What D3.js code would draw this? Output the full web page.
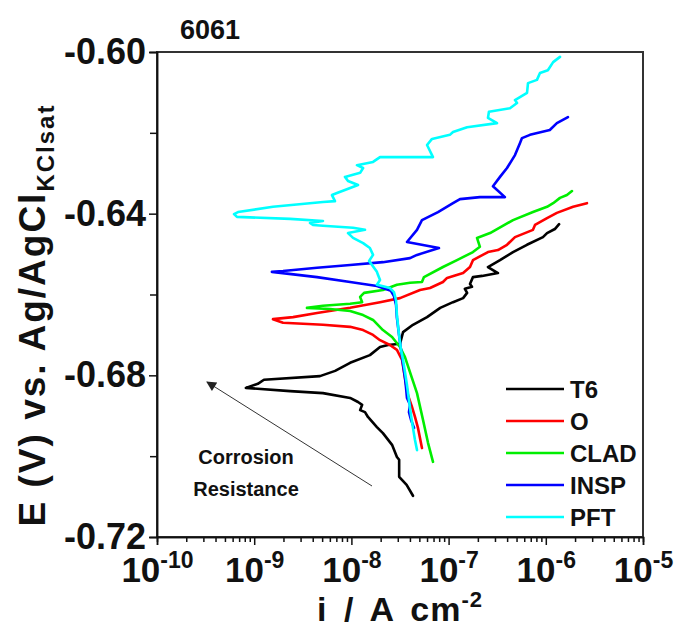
<!DOCTYPE html>
<html>
<head>
<meta charset="utf-8">
<script src="https://cdn.jsdelivr.net/npm/d3@7/dist/d3.min.js"></script>
<style>
  body { margin: 0; background: #fff; }
  text { font-family: "Liberation Sans", Arial, sans-serif; font-weight: bold; fill: #111; }
</style>
</head>
<body>
<svg id="chart" width="675" height="629"></svg>
<script>
// Potentiodynamic polarization curves, alloy 6061, five tempers/conditions
const seriesNames = ["T6", "O", "CLAD", "INSP", "PFT"];
const seriesColors = ["#000000", "#ff0000", "#00ee00", "#0000ff", "#00ffff"];

// current density (A cm^-2) and potential (V vs Ag/AgCl), cathodic end first
const t6Current = [4.3e-8, 3.7e-8, 3.1e-8, 3.1e-8, 2.94e-8, 2.62e-8, 2.11e-8, 1.83e-8, 1.48e-8, 1.38e-8,
  1.23e-8, 1.29e-8, 1.17e-8, 9.7e-9, 5.1e-9, 2.34e-9, 8.2e-10, 1.09e-9, 1.26e-9, 4.75e-9,
  6.8e-9, 9.7e-9, 1.55e-8, 1.97e-8, 2.38e-8, 3.16e-8, 3.4e-8, 4.3e-8, 6.0e-8, 8.2e-8,
  1.11e-7, 1.41e-7, 1.55e-7, 1.47e-7, 1.74e-7, 1.66e-7, 1.78e-7, 2.21e-7, 3.22e-7, 2.54e-7,
  3.38e-7, 4.6e-7, 6.4e-7, 9.35e-7, 1.03e-6, 1.24e-6, 1.37e-6];
const t6Potential = [-0.7098, -0.7071, -0.7051, -0.7009, -0.7002, -0.6972, -0.6943, -0.6928, -0.6903, -0.6891,
  -0.6886, -0.6873, -0.6866, -0.6856, -0.6844, -0.6839, -0.6831, -0.6821, -0.6811, -0.6802,
  -0.6789, -0.6769, -0.6750, -0.6730, -0.6725, -0.6722, -0.6693, -0.6675, -0.6656, -0.6633,
  -0.6619, -0.6609, -0.6596, -0.6586, -0.6581, -0.6574, -0.6557, -0.6554, -0.6547, -0.6532,
  -0.6515, -0.6495, -0.6477, -0.6458, -0.6448, -0.6438, -0.6426];

const oCurrent = [5.32e-8, 4.84e-8, 4.51e-8, 4.2e-8, 3.82e-8, 3.56e-8, 3.32e-8, 2.94e-8, 2.49e-8, 1.97e-8,
  1.67e-8, 1.32e-8, 9.7e-9, 5.1e-9, 1.98e-9, 1.56e-9, 2.51e-9, 4.43e-9, 9.7e-9, 1.97e-8,
  3.16e-8, 5.08e-8, 6.44e-8, 8.75e-8, 9.64e-8, 1.41e-7, 1.66e-7, 1.78e-7, 2.54e-7, 3.22e-7,
  3.99e-7, 4.82e-7, 7.38e-7, 7.74e-7, 1.03e-6, 1.3e-6, 1.91e-6, 2.65e-6];
const oPotential = [-0.6980, -0.6930, -0.6903, -0.6878, -0.6849, -0.6807, -0.6762, -0.6737, -0.6725, -0.6713,
  -0.6700, -0.6688, -0.6680, -0.6675, -0.6670, -0.6661, -0.6656, -0.6646, -0.6633, -0.6619,
  -0.6609, -0.6589, -0.6584, -0.6569, -0.6559, -0.6547, -0.6532, -0.6515, -0.6495, -0.6490,
  -0.6477, -0.6458, -0.6440, -0.6428, -0.6411, -0.6398, -0.6383, -0.6374];

const cladCurrent = [6.91e-8, 6.14e-8, 5.45e-8, 4.73e-8, 4.2e-8, 3.56e-8, 3.16e-8, 2.62e-8, 2.11e-8, 1.67e-8,
  1.32e-8, 9.7e-9, 6.03e-9, 3.49e-9, 5.1e-9, 9.7e-9, 1.29e-8, 1.23e-8, 1.35e-8, 2.11e-8,
  2.94e-8, 4.01e-8, 5.32e-8, 5.58e-8, 8.75e-8, 1.22e-7, 1.78e-7, 2.1e-7, 1.96e-7, 2.67e-7,
  4.6e-7, 7.38e-7, 1.03e-6, 1.19e-6, 1.4e-6, 1.65e-6, 1.86e-6];
const cladPotential = [-0.7014, -0.6967, -0.6910, -0.6844, -0.6807, -0.6755, -0.6730, -0.6705, -0.6688, -0.6663,
  -0.6651, -0.6641, -0.6636, -0.6633, -0.6628, -0.6623, -0.6619, -0.6606, -0.6596, -0.6589,
  -0.6576, -0.6571, -0.6569, -0.6557, -0.6532, -0.6515, -0.6495, -0.6482, -0.6460, -0.6448,
  -0.6416, -0.6396, -0.6383, -0.6374, -0.6361, -0.6354, -0.6344];

const inspCurrent = [4.41e-8, 4.1e-8, 3.91e-8, 4.01e-8, 3.73e-8, 3.65e-8, 3.56e-8, 3.4e-8, 3.24e-8, 3.09e-8,
  2.94e-8, 2.88e-8, 2.74e-8, 2.55e-8, 1.83e-8, 9.7e-9, 4.43e-9, 1.52e-9, 1.98e-9, 4.43e-9,
  9.7e-9, 2.11e-8, 4.01e-8, 4.73e-8, 7.96e-8, 3.73e-8, 4.73e-8, 5.32e-8, 7.78e-8, 1.11e-7,
  1.31e-7, 2.1e-7, 3.8e-7, 2.86e-7, 3.38e-7, 3.99e-7, 4.82e-7, 5.43e-7, 5.69e-7, 6.87e-7,
  1.1e-6, 1.3e-6, 1.69e-6];
const inspPotential = [-0.6930, -0.6910, -0.6891, -0.6873, -0.6856, -0.6831, -0.6807, -0.6774, -0.6737, -0.6700,
  -0.6658, -0.6626, -0.6604, -0.6591, -0.6579, -0.6569, -0.6557, -0.6544, -0.6542, -0.6534,
  -0.6527, -0.6520, -0.6510, -0.6502, -0.6485, -0.6470, -0.6440, -0.6416, -0.6396, -0.6374,
  -0.6364, -0.6359, -0.6359, -0.6332, -0.6309, -0.6287, -0.6255, -0.6225, -0.6213, -0.6205,
  -0.6193, -0.6176, -0.6161];

const pftCurrent = [4.73e-8, 4.51e-8, 4.3e-8, 4.1e-8, 3.91e-8, 3.73e-8, 3.56e-8, 3.4e-8, 3.24e-8, 3.09e-8,
  2.94e-8, 2.88e-8, 2.74e-8, 2.49e-8, 2.22e-8, 1.83e-8, 1.97e-8, 1.88e-8, 1.83e-8, 1.63e-8,
  1.52e-8, 1.67e-8, 1.55e-8, 1.32e-8, 1.04e-8, 9.23e-9, 1.38e-8, 1.04e-8, 5.1e-9, 4.03e-9,
  3.75e-9, 5.1e-9, 2.34e-9, 6.65e-10, 6.2e-10, 6.81e-10, 1.56e-9, 5.1e-9, 6.78e-9, 6.31e-9,
  7.11e-9, 1.17e-8, 9.23e-9, 8.59e-9, 1.23e-8, 1.32e-8, 1.14e-8, 1.67e-8, 1.97e-8, 4.01e-8,
  6.91e-8, 6.0e-8, 6.75e-8, 1.03e-7, 1.11e-7, 1.55e-7, 3.15e-7, 2.54e-7, 2.6e-7, 4.28e-7,
  5.06e-7, 4.82e-7, 6.41e-7, 6.56e-7, 8.11e-7, 8.71e-7, 1.05e-6, 1.19e-6, 1.4e-6];
const pftPotential = [-0.6985, -0.6960, -0.6930, -0.6898, -0.6861, -0.6824, -0.6792, -0.6762, -0.6737, -0.6700,
  -0.6651, -0.6614, -0.6594, -0.6584, -0.6581, -0.6576, -0.6564, -0.6552, -0.6544, -0.6527,
  -0.6517, -0.6502, -0.6485, -0.6473, -0.6460, -0.6448, -0.6440, -0.6435, -0.6430, -0.6428,
  -0.6423, -0.6418, -0.6413, -0.6408, -0.6401, -0.6396, -0.6383, -0.6371, -0.6369, -0.6354,
  -0.6349, -0.6329, -0.6319, -0.6309, -0.6299, -0.6287, -0.6280, -0.6272, -0.6260, -0.6260,
  -0.6260, -0.6230, -0.6215, -0.6205, -0.6198, -0.6186, -0.6176, -0.6163, -0.6148, -0.6139,
  -0.6126, -0.6119, -0.6101, -0.6077, -0.6069, -0.6052, -0.6045, -0.6025, -0.6012];

// axis ticks
const yMajorTicks = [-0.72, -0.68, -0.64, -0.60];
const yMinorTicks = [-0.70, -0.66, -0.62];
const xDecadeTicks = [1e-10, 1e-9, 1e-8, 1e-7, 1e-6, 1e-5];
const xDecadeExponents = ["-10", "-9", "-8", "-7", "-6", "-5"];

const chartTitle = "6061";
const annotationLines = ["Corrosion", "Resistance"];

const seriesCurrents = [t6Current, oCurrent, cladCurrent, inspCurrent, pftCurrent];
const seriesPotentials = [t6Potential, oPotential, cladPotential, inspPotential, pftPotential];

const svg = d3.select("#chart");
const plot = { left: 157, top: 52, right: 643, bottom: 537 };

const x = d3.scaleLog().domain([1e-10, 1e-5]).range([plot.left, plot.right]);
const y = d3.scaleLinear().domain([-0.72, -0.60]).range([plot.bottom, plot.top]);

// minor ticks: 2..9 within each decade
const xMinorTicks = [];
xDecadeTicks.slice(0, -1).forEach(d => { for (let k = 2; k <= 9; k++) xMinorTicks.push(d * k); });

// frame
svg.append("rect")
  .attr("x", plot.left).attr("y", plot.top)
  .attr("width", plot.right - plot.left).attr("height", plot.bottom - plot.top)
  .attr("fill", "none").attr("stroke", "#333").attr("stroke-width", 2);

// y axis
const yAxisMinor = svg.append("g").attr("transform", `translate(${plot.left},0)`)
  .call(d3.axisLeft(y).tickValues(yMinorTicks).tickSize(7).tickFormat(""));
const yAxis = svg.append("g").attr("transform", `translate(${plot.left},0)`)
  .call(d3.axisLeft(y).tickValues(yMajorTicks).tickSize(8).tickPadding(3).tickFormat(d => d.toFixed(2)));
[yAxisMinor, yAxis].forEach(g => {
  g.select(".domain").attr("stroke", "#111").attr("stroke-width", 1.5);
  g.selectAll(".tick line").attr("stroke", "#111").attr("stroke-width", 1.5);
});
yAxis.selectAll(".tick text").attr("font-size", 36).attr("fill", "#111")
  .attr("font-family", "'Liberation Sans', Arial, sans-serif").attr("font-weight", "bold");

// x axis
const xAxisMinor = svg.append("g").attr("transform", `translate(0,${plot.bottom})`)
  .call(d3.axisBottom(x).tickValues(xMinorTicks).tickSize(5).tickFormat(""));
const xAxis = svg.append("g").attr("transform", `translate(0,${plot.bottom})`)
  .call(d3.axisBottom(x).tickValues(xDecadeTicks).tickSize(8).tickFormat(""));
[xAxisMinor, xAxis].forEach(g => {
  g.select(".domain").attr("stroke", "#111").attr("stroke-width", 1.5);
  g.selectAll(".tick line").attr("stroke", "#111").attr("stroke-width", 1.5);
});
xAxis.selectAll(".tick").each(function (d, i) {
  const t = d3.select(this).append("text")
    .attr("y", 45).attr("text-anchor", "middle")
    .attr("font-size", 35).attr("fill", "#111")
    .attr("font-family", "'Liberation Sans', Arial, sans-serif").attr("font-weight", "bold");
  t.append("tspan").text("10");
  t.append("tspan").attr("dy", -14).attr("font-size", 23).text(xDecadeExponents[i]);
});

// curves
const line = d3.line().x(d => x(d[0])).y(d => y(d[1]));
seriesNames.forEach((name, s) => {
  const pts = seriesCurrents[s].map((c, j) => [c, seriesPotentials[s][j]]);
  svg.append("path").datum(pts)
    .attr("d", line)
    .attr("fill", "none")
    .attr("stroke", seriesColors[s])
    .attr("stroke-width", 2.6)
    .attr("stroke-linejoin", "round")
    .attr("stroke-linecap", "round");
});

// legend
const legend = svg.append("g").attr("transform", "translate(506,389)");
seriesNames.forEach((name, s) => {
  const row = legend.append("g").attr("transform", `translate(0,${s * 32})`);
  row.append("line").attr("x1", 0).attr("x2", 58).attr("y1", 0).attr("y2", 0)
    .attr("stroke", seriesColors[s]).attr("stroke-width", 2.6);
  row.append("text").attr("x", 64).attr("y", 9).attr("font-size", 24).text(name);
});

// annotation arrow
const defs = svg.append("defs");
defs.append("marker").attr("id", "arrowhead")
  .attr("viewBox", "0 0 10 10").attr("refX", 9).attr("refY", 5)
  .attr("markerWidth", 14).attr("markerHeight", 10).attr("markerUnits", "userSpaceOnUse")
  .attr("orient", "auto")
  .append("path").attr("d", "M0,0 L10,5 L0,10 Z").attr("fill", "#222");
svg.append("line")
  .attr("x1", 372).attr("y1", 486).attr("x2", 207).attr("y2", 382)
  .attr("stroke", "#333").attr("stroke-width", 1)
  .attr("marker-end", "url(#arrowhead)");
annotationLines.forEach((txt, k) => {
  svg.append("text").attr("x", 246).attr("y", 464 + k * 32)
    .attr("text-anchor", "middle").attr("font-size", 20).text(txt);
});

// title
svg.append("text").attr("x", 180).attr("y", 39).attr("font-size", 27).text(chartTitle);

// x axis title
const xTitle = svg.append("text").attr("x", 400).attr("y", 621)
  .attr("text-anchor", "middle").attr("font-size", 34)
  .attr("letter-spacing", 1).attr("word-spacing", 6);
xTitle.append("tspan").text("i / A cm");
xTitle.append("tspan").attr("dy", -14).attr("font-size", 22).text("-2");

// y axis title
const yTitle = svg.append("text")
  .attr("transform", "translate(45,315) rotate(-90)")
  .attr("text-anchor", "middle").attr("font-size", 37).attr("letter-spacing", 2);
yTitle.append("tspan").text("E (V) vs. Ag/AgCl");
yTitle.append("tspan").attr("dy", 9).attr("font-size", 24).text("KClsat");
</script>
</body>
</html>
